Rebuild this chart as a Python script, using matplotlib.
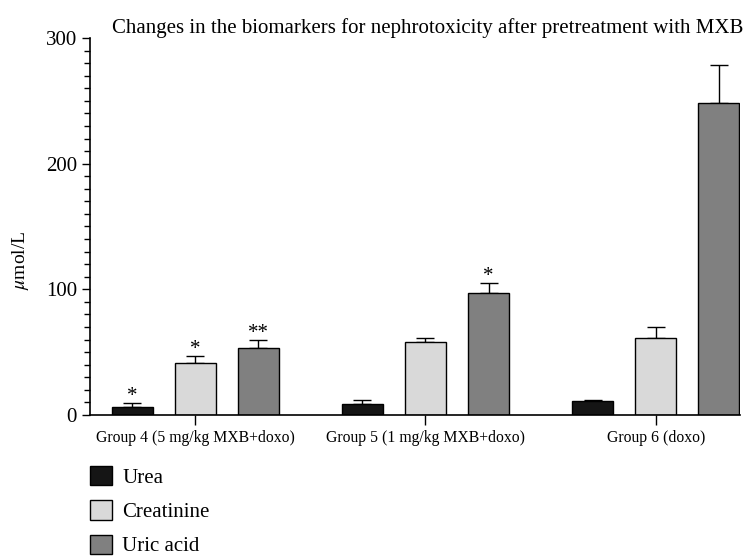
import matplotlib
matplotlib.use("Agg")
import matplotlib.pyplot as plt
from matplotlib.patches import Patch
from matplotlib.ticker import MultipleLocator
import numpy as np

groups = ["Group 4 (5 mg/kg MXB+doxo)", "Group 5 (1 mg/kg MXB+doxo)", "Group 6 (doxo)"]
series = ["Urea", "Creatinine", "Uric acid"]
urea = [6.6, 8.8, 11.1]
urea_err = [3.2, 3.4, 0.6]
creatinine = [41.1, 57.8, 61.5]
creatinine_err = [6.1, 3.5, 8.5]
uric = [53.5, 96.8, 248.0]
uric_err = [6.2, 8.5, 30.7]
stars_urea = ["*", "", ""]
stars_creat = ["*", "", ""]
stars_uric = ["**", "*", ""]
colors = ["#151515", "#d9d9d9", "#808080"]

plt.rcParams['font.family'] = ['Liberation Serif', 'DejaVu Serif']
plt.rcParams['mathtext.fontset'] = 'stix'

fig = plt.figure(figsize=(7.53, 5.56), dpi=100)
ax = fig.add_axes([90/753, 1-415/556, 650/753, 377/556])

gsp = 3.65
centers = np.arange(len(groups)) * gsp
width = 0.65
data = [(urea, urea_err, stars_urea), (creatinine, creatinine_err, stars_creat), (uric, uric_err, stars_uric)]
for i, (vals, errs, stars) in enumerate(data):
    xs = centers + (i - 1)
    ax.bar(xs, vals, width=width, color=colors[i], edgecolor='black', linewidth=1.0, zorder=2)
    ax.errorbar(xs, vals, yerr=[np.zeros(len(vals)), errs], fmt='none', ecolor='black',
                elinewidth=1.0, capsize=6.5, capthick=1.0, zorder=1)
    for x, v, e, s in zip(xs, vals, errs, stars):
        if s:
            ax.annotate(s, (x, v + e), xytext=(0, -2.5), textcoords='offset points',
                        ha='center', va='bottom', fontsize=15)

ax.set_xlim(-1.667, centers[-1] + 1 + width/2 + 0.01)
ax.set_ylim(0, 300)
ax.set_xticks(centers)
ax.set_xticklabels(groups, fontsize=11.3)
ax.yaxis.set_major_locator(MultipleLocator(100))
ax.yaxis.set_minor_locator(MultipleLocator(10))
ax.tick_params(axis='y', which='major', labelsize=15, length=6, width=1)
ax.tick_params(axis='y', which='minor', length=4, width=1)
ax.tick_params(axis='x', length=7, width=1, pad=4)
for s in ['top', 'right']:
    ax.spines[s].set_visible(False)
for s in ['left', 'bottom']:
    ax.spines[s].set_linewidth(1.2)
ax.set_ylabel(r'$\mu$mol/L', fontsize=14)
ax.yaxis.set_label_coords(-0.09, 0.41)
ax.set_title("Changes in the biomarkers for nephrotoxicity after pretreatment with MXB",
             fontsize=15, x=0.52, pad=3)

handles = [Patch(facecolor=c, edgecolor='black', linewidth=1.0) for c in colors]
fig.legend(handles, series, loc='upper left', bbox_to_anchor=(90/753, 1-466/556),
           frameon=False, fontsize=15, handlelength=1.05, handleheight=1.05,
           labelspacing=0.6, handletextpad=0.5, borderaxespad=0, borderpad=0)

fig.savefig("out.png", dpi=100)
